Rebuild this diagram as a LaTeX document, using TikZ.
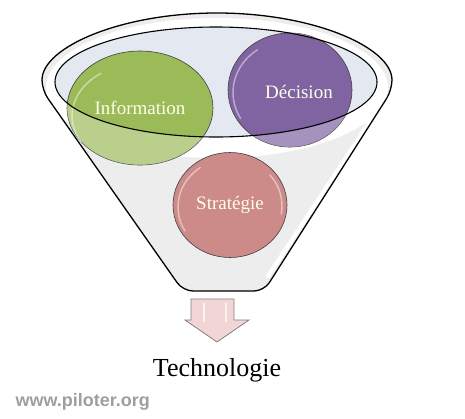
\documentclass[tikz,border=0pt]{standalone}
\usepackage{fontspec}
\setmainfont{Liberation Serif}
\newfontfamily\webfont{Liberation Sans}
\usepackage{tikz}
\usetikzlibrary{positioning,calc,shapes.geometric}

\definecolor{infogreen}{HTML}{9BBB59}
\definecolor{decpurple}{HTML}{8064A2}
\definecolor{stratpink}{HTML}{CC8B89}
\definecolor{rimblue}{HTML}{E3E8F1}
\definecolor{arrowpink}{HTML}{F2D6D6}

\begin{document}
\begin{tikzpicture}[x=1pt,y=-1pt,
		bubble/.style={ellipse, draw=black!75, line width=0.6pt, text=white!92!yellow, font=\fontsize{19}{22}\selectfont, inner sep=0pt},
		label/.style={text=white!92!yellow, font=\fontsize{19}{22}\selectfont},
		gloss/.style={white, opacity=0.45, line width=1.5pt, line cap=round},
		wall/.style={draw=black, line width=1.3pt, rounded corners=10pt}]
		\useasboundingbox (0,0) rectangle (465,418);
		
		% funnel body
		\fill[gray!14, rounded corners=10pt] (183,291) -- (42,90) arc[start angle=180, end angle=360, x radius=175, y radius=77] -- (264,291) -- cycle;
		\begin{scope}[rounded corners=10pt]
			\clip (183,291) -- (42,90) arc[start angle=180, end angle=360, x radius=175, y radius=77] -- (264,291) -- cycle;
			\fill[white, sharp corners] (217,88) ellipse [x radius=171, y radius=70];
		\end{scope}
		\draw[white, line width=4pt, line cap=round] (372,118) -- (268,276);
		\draw[wall] (183,291) -- (42,90) arc[start angle=180, end angle=360, x radius=175, y radius=77] -- (264,291) -- cycle;
		
		% rim
		\fill[rimblue] (216,82) ellipse [x radius=161, y radius=55];
		
		% bubbles
		\node[bubble, fill=infogreen, minimum width=146, minimum height=114] (info) at (140,108) {};
		\node[bubble, fill=decpurple, minimum width=124, minimum height=114] (dec) at (290,90) {};
		\node[bubble, fill=stratpink, minimum width=114, minimum height=105] (strat) at (230,205) {};
		
		\draw[gloss] (140,108) ++(150:68) arc[start angle=150, end angle=235, x radius=68, y radius=52];
		\draw[gloss] (290,90) ++(150:57) arc[start angle=150, end angle=235, x radius=57, y radius=52];
		\draw[gloss] (230,205) ++(150:52) arc[start angle=150, end angle=235, x radius=52, y radius=48];
		\draw[gloss] (230,205) ++(10:52) arc[start angle=10, end angle=-40, x radius=52, y radius=48];
		
		\begin{scope}[even odd rule]
			\clip (0,0) rectangle (465,418) (216,82) ellipse [x radius=161, y radius=55];
			\fill[white, opacity=0.3] (140,108) ellipse [x radius=73, y radius=57];
			\fill[white, opacity=0.3] (290,90) ellipse [x radius=62, y radius=57];
		\end{scope}
		
		\draw[black, line width=1.1pt] (216,82) ellipse [x radius=161, y radius=55];
		
		\node[label] at (info.center) {Information};
		\node[label] at ($(dec.center)+(9,2)$) {Décision};
		\node[label] at (strat.center) {Stratégie};
		
		% arrow
		\draw[gray, fill=arrowpink, line width=0.8pt] (191,299) -- (234,299) -- (234,320) -- (249,320) -- (217,342) -- (185,320) -- (191,320) -- cycle;
		\draw[white, opacity=0.7, line width=2pt] (204,303) -- (204,322);
		\draw[white, opacity=0.7, line width=2pt] (226,303) -- (226,322);
		
		\node[font=\fontsize{26}{30}\selectfont] (tech) at (217,370) {Technologie};
		\node[font=\webfont\bfseries\fontsize{18}{21}\selectfont, text=gray!75, anchor=west] (web) at (12,402) {www.piloter.org};
\end{tikzpicture}
\end{document}
